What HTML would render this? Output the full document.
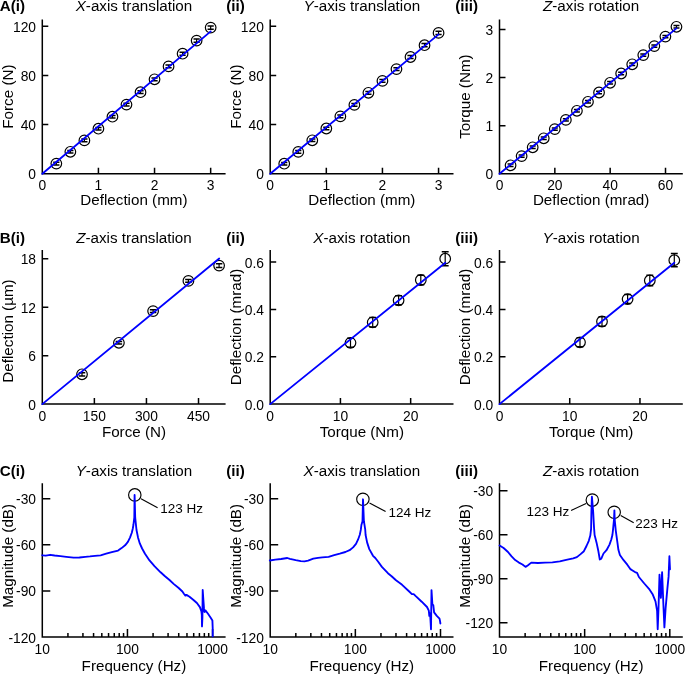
<!DOCTYPE html>
<html><head><meta charset="utf-8"><style>
html,body{margin:0;padding:0;background:#fff;width:685px;height:674px;overflow:hidden}
svg{display:block;will-change:transform}
text{font-family:"Liberation Sans", sans-serif}
</style></head><body>
<svg width="685" height="674" viewBox="0 0 685 674" font-family='"Liberation Sans", sans-serif' fill="#000"><path d="M42.30,19.40 V173.80 H225.60 M42.30,173.80 v-6 M98.42,173.80 v-6 M154.54,173.80 v-6 M210.66,173.80 v-6 M42.30,173.80 h6 M42.30,124.62 h6 M42.30,75.44 h6 M42.30,26.26 h6" fill="none" stroke="#000" stroke-width="1.5" stroke-linecap="butt"/>
<text x="42.30" y="189.70" font-size="13.8" text-anchor="middle" >0</text>
<text x="98.42" y="189.70" font-size="13.8" text-anchor="middle" >1</text>
<text x="154.54" y="189.70" font-size="13.8" text-anchor="middle" >2</text>
<text x="210.66" y="189.70" font-size="13.8" text-anchor="middle" >3</text>
<text x="36.00" y="179.30" font-size="13.8" text-anchor="end" >0</text>
<text x="36.00" y="130.12" font-size="13.8" text-anchor="end" >40</text>
<text x="36.00" y="80.94" font-size="13.8" text-anchor="end" >80</text>
<text x="36.00" y="31.76" font-size="13.8" text-anchor="end" >120</text>
<text x="133.95" y="10.95" font-size="15.2" text-anchor="middle" ><tspan font-style="italic">X</tspan>-axis translation</text>
<text x="133.95" y="205.10" font-size="15.2" text-anchor="middle" >Deflection (mm)</text>
<text x="0" y="0" font-size="15.2" text-anchor="middle" transform="translate(13.00,96.60) rotate(-90)">Force (N)</text>
<text x="-0.30" y="10.95" font-size="15.2" text-anchor="start" font-weight="bold">A(i)</text>
<path d="M270.20,19.40 V173.80 H453.50 M270.20,173.80 v-6 M326.32,173.80 v-6 M382.44,173.80 v-6 M438.56,173.80 v-6 M270.20,173.80 h6 M270.20,124.62 h6 M270.20,75.44 h6 M270.20,26.26 h6" fill="none" stroke="#000" stroke-width="1.5" stroke-linecap="butt"/>
<text x="270.20" y="189.70" font-size="13.8" text-anchor="middle" >0</text>
<text x="326.32" y="189.70" font-size="13.8" text-anchor="middle" >1</text>
<text x="382.44" y="189.70" font-size="13.8" text-anchor="middle" >2</text>
<text x="438.56" y="189.70" font-size="13.8" text-anchor="middle" >3</text>
<text x="263.90" y="179.30" font-size="13.8" text-anchor="end" >0</text>
<text x="263.90" y="130.12" font-size="13.8" text-anchor="end" >40</text>
<text x="263.90" y="80.94" font-size="13.8" text-anchor="end" >80</text>
<text x="263.90" y="31.76" font-size="13.8" text-anchor="end" >120</text>
<text x="361.85" y="10.95" font-size="15.2" text-anchor="middle" ><tspan font-style="italic">Y</tspan>-axis translation</text>
<text x="361.85" y="205.10" font-size="15.2" text-anchor="middle" >Deflection (mm)</text>
<text x="0" y="0" font-size="15.2" text-anchor="middle" transform="translate(240.90,96.60) rotate(-90)">Force (N)</text>
<text x="226.30" y="10.95" font-size="15.2" text-anchor="start" font-weight="bold">(ii)</text>
<path d="M499.50,19.40 V173.80 H682.80 M499.50,173.80 v-6 M554.84,173.80 v-6 M610.17,173.80 v-6 M665.51,173.80 v-6 M499.50,173.80 h6 M499.50,125.70 h6 M499.50,77.60 h6 M499.50,29.50 h6" fill="none" stroke="#000" stroke-width="1.5" stroke-linecap="butt"/>
<text x="499.50" y="189.70" font-size="13.8" text-anchor="middle" >0</text>
<text x="554.84" y="189.70" font-size="13.8" text-anchor="middle" >20</text>
<text x="610.17" y="189.70" font-size="13.8" text-anchor="middle" >40</text>
<text x="665.51" y="189.70" font-size="13.8" text-anchor="middle" >60</text>
<text x="493.20" y="179.30" font-size="13.8" text-anchor="end" >0</text>
<text x="493.20" y="131.20" font-size="13.8" text-anchor="end" >1</text>
<text x="493.20" y="83.10" font-size="13.8" text-anchor="end" >2</text>
<text x="493.20" y="35.00" font-size="13.8" text-anchor="end" >3</text>
<text x="591.15" y="10.95" font-size="15.2" text-anchor="middle" ><tspan font-style="italic">Z</tspan>-axis rotation</text>
<text x="591.15" y="205.10" font-size="15.2" text-anchor="middle" >Deflection (mrad)</text>
<text x="0" y="0" font-size="15.2" text-anchor="middle" transform="translate(470.20,96.60) rotate(-90)">Torque (Nm)</text>
<text x="455.30" y="10.95" font-size="15.2" text-anchor="start" font-weight="bold">(iii)</text>
<circle cx="56.33" cy="163.60" r="5.3" fill="none" stroke="#000" stroke-width="1.2"/>
<path d="M56.33,162.30 V164.90" stroke="#000" stroke-width="1.2" fill="none"/>
<path d="M53.23,162.30 h6.2 M53.23,164.90 h6.2" stroke="#000" stroke-width="1.5" fill="none"/>
<circle cx="70.36" cy="151.80" r="5.3" fill="none" stroke="#000" stroke-width="1.2"/>
<path d="M70.36,150.50 V153.10" stroke="#000" stroke-width="1.2" fill="none"/>
<path d="M67.26,150.50 h6.2 M67.26,153.10 h6.2" stroke="#000" stroke-width="1.5" fill="none"/>
<circle cx="84.39" cy="140.40" r="5.3" fill="none" stroke="#000" stroke-width="1.2"/>
<path d="M84.39,139.10 V141.70" stroke="#000" stroke-width="1.2" fill="none"/>
<path d="M81.29,139.10 h6.2 M81.29,141.70 h6.2" stroke="#000" stroke-width="1.5" fill="none"/>
<circle cx="98.42" cy="128.70" r="5.3" fill="none" stroke="#000" stroke-width="1.2"/>
<path d="M98.42,127.40 V130.00" stroke="#000" stroke-width="1.2" fill="none"/>
<path d="M95.32,127.40 h6.2 M95.32,130.00 h6.2" stroke="#000" stroke-width="1.5" fill="none"/>
<circle cx="112.45" cy="116.70" r="5.3" fill="none" stroke="#000" stroke-width="1.2"/>
<path d="M112.45,115.40 V118.00" stroke="#000" stroke-width="1.2" fill="none"/>
<path d="M109.35,115.40 h6.2 M109.35,118.00 h6.2" stroke="#000" stroke-width="1.5" fill="none"/>
<circle cx="126.48" cy="104.60" r="5.3" fill="none" stroke="#000" stroke-width="1.2"/>
<path d="M126.48,103.30 V105.90" stroke="#000" stroke-width="1.2" fill="none"/>
<path d="M123.38,103.30 h6.2 M123.38,105.90 h6.2" stroke="#000" stroke-width="1.5" fill="none"/>
<circle cx="140.51" cy="92.20" r="5.3" fill="none" stroke="#000" stroke-width="1.2"/>
<path d="M140.51,90.80 V93.60" stroke="#000" stroke-width="1.2" fill="none"/>
<path d="M137.41,90.80 h6.2 M137.41,93.60 h6.2" stroke="#000" stroke-width="1.5" fill="none"/>
<circle cx="154.54" cy="79.30" r="5.3" fill="none" stroke="#000" stroke-width="1.2"/>
<path d="M154.54,77.90 V80.70" stroke="#000" stroke-width="1.2" fill="none"/>
<path d="M151.44,77.90 h6.2 M151.44,80.70 h6.2" stroke="#000" stroke-width="1.5" fill="none"/>
<circle cx="168.57" cy="66.40" r="5.3" fill="none" stroke="#000" stroke-width="1.2"/>
<path d="M168.57,65.00 V67.80" stroke="#000" stroke-width="1.2" fill="none"/>
<path d="M165.47,65.00 h6.2 M165.47,67.80 h6.2" stroke="#000" stroke-width="1.5" fill="none"/>
<circle cx="182.60" cy="53.70" r="5.3" fill="none" stroke="#000" stroke-width="1.2"/>
<path d="M182.60,52.20 V55.20" stroke="#000" stroke-width="1.2" fill="none"/>
<path d="M179.50,52.20 h6.2 M179.50,55.20 h6.2" stroke="#000" stroke-width="1.5" fill="none"/>
<circle cx="196.63" cy="40.60" r="5.3" fill="none" stroke="#000" stroke-width="1.2"/>
<path d="M196.63,39.00 V42.20" stroke="#000" stroke-width="1.2" fill="none"/>
<path d="M193.53,39.00 h6.2 M193.53,42.20 h6.2" stroke="#000" stroke-width="1.5" fill="none"/>
<circle cx="210.66" cy="27.60" r="5.3" fill="none" stroke="#000" stroke-width="1.2"/>
<path d="M210.66,26.00 V29.20" stroke="#000" stroke-width="1.2" fill="none"/>
<path d="M207.56,26.00 h6.2 M207.56,29.20 h6.2" stroke="#000" stroke-width="1.5" fill="none"/>
<circle cx="284.23" cy="163.70" r="5.3" fill="none" stroke="#000" stroke-width="1.2"/>
<path d="M284.23,162.40 V165.00" stroke="#000" stroke-width="1.2" fill="none"/>
<path d="M281.13,162.40 h6.2 M281.13,165.00 h6.2" stroke="#000" stroke-width="1.5" fill="none"/>
<circle cx="298.26" cy="151.90" r="5.3" fill="none" stroke="#000" stroke-width="1.2"/>
<path d="M298.26,150.60 V153.20" stroke="#000" stroke-width="1.2" fill="none"/>
<path d="M295.16,150.60 h6.2 M295.16,153.20 h6.2" stroke="#000" stroke-width="1.5" fill="none"/>
<circle cx="312.29" cy="140.30" r="5.3" fill="none" stroke="#000" stroke-width="1.2"/>
<path d="M312.29,139.00 V141.60" stroke="#000" stroke-width="1.2" fill="none"/>
<path d="M309.19,139.00 h6.2 M309.19,141.60 h6.2" stroke="#000" stroke-width="1.5" fill="none"/>
<circle cx="326.32" cy="128.50" r="5.3" fill="none" stroke="#000" stroke-width="1.2"/>
<path d="M326.32,127.20 V129.80" stroke="#000" stroke-width="1.2" fill="none"/>
<path d="M323.22,127.20 h6.2 M323.22,129.80 h6.2" stroke="#000" stroke-width="1.5" fill="none"/>
<circle cx="340.35" cy="116.40" r="5.3" fill="none" stroke="#000" stroke-width="1.2"/>
<path d="M340.35,115.10 V117.70" stroke="#000" stroke-width="1.2" fill="none"/>
<path d="M337.25,115.10 h6.2 M337.25,117.70 h6.2" stroke="#000" stroke-width="1.5" fill="none"/>
<circle cx="354.38" cy="104.90" r="5.3" fill="none" stroke="#000" stroke-width="1.2"/>
<path d="M354.38,103.60 V106.20" stroke="#000" stroke-width="1.2" fill="none"/>
<path d="M351.28,103.60 h6.2 M351.28,106.20 h6.2" stroke="#000" stroke-width="1.5" fill="none"/>
<circle cx="368.41" cy="92.80" r="5.3" fill="none" stroke="#000" stroke-width="1.2"/>
<path d="M368.41,91.40 V94.20" stroke="#000" stroke-width="1.2" fill="none"/>
<path d="M365.31,91.40 h6.2 M365.31,94.20 h6.2" stroke="#000" stroke-width="1.5" fill="none"/>
<circle cx="382.44" cy="80.90" r="5.3" fill="none" stroke="#000" stroke-width="1.2"/>
<path d="M382.44,79.50 V82.30" stroke="#000" stroke-width="1.2" fill="none"/>
<path d="M379.34,79.50 h6.2 M379.34,82.30 h6.2" stroke="#000" stroke-width="1.5" fill="none"/>
<circle cx="396.47" cy="69.10" r="5.3" fill="none" stroke="#000" stroke-width="1.2"/>
<path d="M396.47,67.70 V70.50" stroke="#000" stroke-width="1.2" fill="none"/>
<path d="M393.37,67.70 h6.2 M393.37,70.50 h6.2" stroke="#000" stroke-width="1.5" fill="none"/>
<circle cx="410.50" cy="57.00" r="5.3" fill="none" stroke="#000" stroke-width="1.2"/>
<path d="M410.50,55.50 V58.50" stroke="#000" stroke-width="1.2" fill="none"/>
<path d="M407.40,55.50 h6.2 M407.40,58.50 h6.2" stroke="#000" stroke-width="1.5" fill="none"/>
<circle cx="424.53" cy="45.20" r="5.3" fill="none" stroke="#000" stroke-width="1.2"/>
<path d="M424.53,43.60 V46.80" stroke="#000" stroke-width="1.2" fill="none"/>
<path d="M421.43,43.60 h6.2 M421.43,46.80 h6.2" stroke="#000" stroke-width="1.5" fill="none"/>
<circle cx="438.56" cy="32.90" r="5.3" fill="none" stroke="#000" stroke-width="1.2"/>
<path d="M438.56,31.30 V34.50" stroke="#000" stroke-width="1.2" fill="none"/>
<path d="M435.46,31.30 h6.2 M435.46,34.50 h6.2" stroke="#000" stroke-width="1.5" fill="none"/>
<circle cx="510.56" cy="165.30" r="5.3" fill="none" stroke="#000" stroke-width="1.2"/>
<path d="M510.56,164.10 V166.50" stroke="#000" stroke-width="1.2" fill="none"/>
<path d="M507.56,164.10 h6.0 M507.56,166.50 h6.0" stroke="#000" stroke-width="1.5" fill="none"/>
<circle cx="521.62" cy="156.10" r="5.3" fill="none" stroke="#000" stroke-width="1.2"/>
<path d="M521.62,154.90 V157.30" stroke="#000" stroke-width="1.2" fill="none"/>
<path d="M518.62,154.90 h6.0 M518.62,157.30 h6.0" stroke="#000" stroke-width="1.5" fill="none"/>
<circle cx="532.68" cy="147.30" r="5.3" fill="none" stroke="#000" stroke-width="1.2"/>
<path d="M532.68,146.10 V148.50" stroke="#000" stroke-width="1.2" fill="none"/>
<path d="M529.68,146.10 h6.0 M529.68,148.50 h6.0" stroke="#000" stroke-width="1.5" fill="none"/>
<circle cx="543.74" cy="138.30" r="5.3" fill="none" stroke="#000" stroke-width="1.2"/>
<path d="M543.74,137.10 V139.50" stroke="#000" stroke-width="1.2" fill="none"/>
<path d="M540.74,137.10 h6.0 M540.74,139.50 h6.0" stroke="#000" stroke-width="1.5" fill="none"/>
<circle cx="554.80" cy="129.10" r="5.3" fill="none" stroke="#000" stroke-width="1.2"/>
<path d="M554.80,127.90 V130.30" stroke="#000" stroke-width="1.2" fill="none"/>
<path d="M551.80,127.90 h6.0 M551.80,130.30 h6.0" stroke="#000" stroke-width="1.5" fill="none"/>
<circle cx="565.86" cy="119.90" r="5.3" fill="none" stroke="#000" stroke-width="1.2"/>
<path d="M565.86,118.70 V121.10" stroke="#000" stroke-width="1.2" fill="none"/>
<path d="M562.86,118.70 h6.0 M562.86,121.10 h6.0" stroke="#000" stroke-width="1.5" fill="none"/>
<circle cx="576.92" cy="110.80" r="5.3" fill="none" stroke="#000" stroke-width="1.2"/>
<path d="M576.92,109.60 V112.00" stroke="#000" stroke-width="1.2" fill="none"/>
<path d="M573.92,109.60 h6.0 M573.92,112.00 h6.0" stroke="#000" stroke-width="1.5" fill="none"/>
<circle cx="587.98" cy="101.80" r="5.3" fill="none" stroke="#000" stroke-width="1.2"/>
<path d="M587.98,100.60 V103.00" stroke="#000" stroke-width="1.2" fill="none"/>
<path d="M584.98,100.60 h6.0 M584.98,103.00 h6.0" stroke="#000" stroke-width="1.5" fill="none"/>
<circle cx="599.04" cy="92.50" r="5.3" fill="none" stroke="#000" stroke-width="1.2"/>
<path d="M599.04,91.30 V93.70" stroke="#000" stroke-width="1.2" fill="none"/>
<path d="M596.04,91.30 h6.0 M596.04,93.70 h6.0" stroke="#000" stroke-width="1.5" fill="none"/>
<circle cx="610.10" cy="82.80" r="5.3" fill="none" stroke="#000" stroke-width="1.2"/>
<path d="M610.10,81.60 V84.00" stroke="#000" stroke-width="1.2" fill="none"/>
<path d="M607.10,81.60 h6.0 M607.10,84.00 h6.0" stroke="#000" stroke-width="1.5" fill="none"/>
<circle cx="621.16" cy="73.50" r="5.3" fill="none" stroke="#000" stroke-width="1.2"/>
<path d="M621.16,72.30 V74.70" stroke="#000" stroke-width="1.2" fill="none"/>
<path d="M618.16,72.30 h6.0 M618.16,74.70 h6.0" stroke="#000" stroke-width="1.5" fill="none"/>
<circle cx="632.22" cy="64.30" r="5.3" fill="none" stroke="#000" stroke-width="1.2"/>
<path d="M632.22,63.10 V65.50" stroke="#000" stroke-width="1.2" fill="none"/>
<path d="M629.22,63.10 h6.0 M629.22,65.50 h6.0" stroke="#000" stroke-width="1.5" fill="none"/>
<circle cx="643.28" cy="55.10" r="5.3" fill="none" stroke="#000" stroke-width="1.2"/>
<path d="M643.28,53.90 V56.30" stroke="#000" stroke-width="1.2" fill="none"/>
<path d="M640.28,53.90 h6.0 M640.28,56.30 h6.0" stroke="#000" stroke-width="1.5" fill="none"/>
<circle cx="654.34" cy="46.10" r="5.3" fill="none" stroke="#000" stroke-width="1.2"/>
<path d="M654.34,44.90 V47.30" stroke="#000" stroke-width="1.2" fill="none"/>
<path d="M651.34,44.90 h6.0 M651.34,47.30 h6.0" stroke="#000" stroke-width="1.5" fill="none"/>
<circle cx="665.40" cy="36.60" r="5.3" fill="none" stroke="#000" stroke-width="1.2"/>
<path d="M665.40,35.40 V37.80" stroke="#000" stroke-width="1.2" fill="none"/>
<path d="M662.40,35.40 h6.0 M662.40,37.80 h6.0" stroke="#000" stroke-width="1.5" fill="none"/>
<circle cx="676.46" cy="26.80" r="5.3" fill="none" stroke="#000" stroke-width="1.2"/>
<path d="M676.46,25.60 V28.00" stroke="#000" stroke-width="1.2" fill="none"/>
<path d="M673.46,25.60 h6.0 M673.46,28.00 h6.0" stroke="#000" stroke-width="1.5" fill="none"/>
<path d="M42.30,250.00 V404.10 H225.60 M42.30,404.10 v-6 M94.37,404.10 v-6 M146.45,404.10 v-6 M198.52,404.10 v-6 M42.30,404.10 h6 M42.30,355.69 h6 M42.30,307.28 h6 M42.30,258.87 h6" fill="none" stroke="#000" stroke-width="1.5" stroke-linecap="butt"/>
<text x="42.30" y="420.50" font-size="13.8" text-anchor="middle" >0</text>
<text x="94.37" y="420.50" font-size="13.8" text-anchor="middle" >150</text>
<text x="146.45" y="420.50" font-size="13.8" text-anchor="middle" >300</text>
<text x="198.52" y="420.50" font-size="13.8" text-anchor="middle" >450</text>
<text x="36.00" y="409.60" font-size="13.8" text-anchor="end" >0</text>
<text x="36.00" y="361.19" font-size="13.8" text-anchor="end" >6</text>
<text x="36.00" y="312.78" font-size="13.8" text-anchor="end" >12</text>
<text x="36.00" y="264.37" font-size="13.8" text-anchor="end" >18</text>
<text x="133.95" y="243.10" font-size="15.2" text-anchor="middle" ><tspan font-style="italic">Z</tspan>-axis translation</text>
<text x="133.95" y="437.30" font-size="15.2" text-anchor="middle" >Force (N)</text>
<text x="0" y="0" font-size="15.2" text-anchor="middle" transform="translate(13.00,331.00) rotate(-90)">Deflection (µm)</text>
<circle cx="82.00" cy="374.30" r="5.3" fill="none" stroke="#000" stroke-width="1.2"/>
<path d="M82.00,372.70 V375.90" stroke="#000" stroke-width="1.2" fill="none"/>
<path d="M78.75,372.70 h6.5 M78.75,375.90 h6.5" stroke="#000" stroke-width="1.5" fill="none"/>
<circle cx="118.90" cy="342.80" r="5.3" fill="none" stroke="#000" stroke-width="1.2"/>
<path d="M118.90,341.50 V344.10" stroke="#000" stroke-width="1.2" fill="none"/>
<path d="M115.65,341.50 h6.5 M115.65,344.10 h6.5" stroke="#000" stroke-width="1.5" fill="none"/>
<circle cx="153.10" cy="311.10" r="5.3" fill="none" stroke="#000" stroke-width="1.2"/>
<path d="M153.10,309.80 V312.40" stroke="#000" stroke-width="1.2" fill="none"/>
<path d="M149.85,309.80 h6.5 M149.85,312.40 h6.5" stroke="#000" stroke-width="1.5" fill="none"/>
<circle cx="188.40" cy="280.90" r="5.3" fill="none" stroke="#000" stroke-width="1.2"/>
<path d="M188.40,279.50 V282.30" stroke="#000" stroke-width="1.2" fill="none"/>
<path d="M185.15,279.50 h6.5 M185.15,282.30 h6.5" stroke="#000" stroke-width="1.5" fill="none"/>
<circle cx="219.10" cy="265.60" r="5.3" fill="none" stroke="#000" stroke-width="1.2"/>
<path d="M219.10,263.80 V267.40" stroke="#000" stroke-width="1.2" fill="none"/>
<path d="M215.85,263.80 h6.5 M215.85,267.40 h6.5" stroke="#000" stroke-width="1.5" fill="none"/>
<path d="M270.20,250.00 V404.10 H453.50 M270.20,404.10 v-6 M340.43,404.10 v-6 M410.66,404.10 v-6 M270.20,404.10 h6 M270.20,356.76 h6 M270.20,309.41 h6 M270.20,262.07 h6" fill="none" stroke="#000" stroke-width="1.5" stroke-linecap="butt"/>
<text x="270.20" y="420.50" font-size="13.8" text-anchor="middle" >0</text>
<text x="340.43" y="420.50" font-size="13.8" text-anchor="middle" >10</text>
<text x="410.66" y="420.50" font-size="13.8" text-anchor="middle" >20</text>
<text x="263.90" y="409.60" font-size="13.8" text-anchor="end" >0.0</text>
<text x="263.90" y="362.26" font-size="13.8" text-anchor="end" >0.2</text>
<text x="263.90" y="314.91" font-size="13.8" text-anchor="end" >0.4</text>
<text x="263.90" y="267.57" font-size="13.8" text-anchor="end" >0.6</text>
<text x="361.85" y="243.10" font-size="15.2" text-anchor="middle" ><tspan font-style="italic">X</tspan>-axis rotation</text>
<text x="361.85" y="437.30" font-size="15.2" text-anchor="middle" >Torque (Nm)</text>
<text x="0" y="0" font-size="15.2" text-anchor="middle" transform="translate(240.90,327.05) rotate(-90)">Deflection (mrad)</text>
<path d="M499.50,250.00 V404.10 H682.80 M499.50,404.10 v-6 M569.73,404.10 v-6 M639.96,404.10 v-6 M499.50,404.10 h6 M499.50,356.76 h6 M499.50,309.41 h6 M499.50,262.07 h6" fill="none" stroke="#000" stroke-width="1.5" stroke-linecap="butt"/>
<text x="499.50" y="420.50" font-size="13.8" text-anchor="middle" >0</text>
<text x="569.73" y="420.50" font-size="13.8" text-anchor="middle" >10</text>
<text x="639.96" y="420.50" font-size="13.8" text-anchor="middle" >20</text>
<text x="493.20" y="409.60" font-size="13.8" text-anchor="end" >0.0</text>
<text x="493.20" y="362.26" font-size="13.8" text-anchor="end" >0.2</text>
<text x="493.20" y="314.91" font-size="13.8" text-anchor="end" >0.4</text>
<text x="493.20" y="267.57" font-size="13.8" text-anchor="end" >0.6</text>
<text x="591.15" y="243.10" font-size="15.2" text-anchor="middle" ><tspan font-style="italic">Y</tspan>-axis rotation</text>
<text x="591.15" y="437.30" font-size="15.2" text-anchor="middle" >Torque (Nm)</text>
<text x="0" y="0" font-size="15.2" text-anchor="middle" transform="translate(470.20,327.05) rotate(-90)">Deflection (mrad)</text>
<text x="-0.30" y="243.10" font-size="15.2" text-anchor="start" font-weight="bold">B(i)</text>
<text x="226.30" y="243.10" font-size="15.2" text-anchor="start" font-weight="bold">(ii)</text>
<text x="455.30" y="243.10" font-size="15.2" text-anchor="start" font-weight="bold">(iii)</text>
<circle cx="350.50" cy="342.80" r="5.3" fill="none" stroke="#000" stroke-width="1.2"/>
<path d="M350.50,338.30 V347.30" stroke="#000" stroke-width="1.2" fill="none"/>
<path d="M347.05,338.30 h6.9 M347.05,347.30 h6.9" stroke="#000" stroke-width="1.5" fill="none"/>
<circle cx="372.70" cy="322.30" r="5.3" fill="none" stroke="#000" stroke-width="1.2"/>
<path d="M372.70,317.50 V327.10" stroke="#000" stroke-width="1.2" fill="none"/>
<path d="M369.25,317.50 h6.9 M369.25,327.10 h6.9" stroke="#000" stroke-width="1.5" fill="none"/>
<circle cx="398.60" cy="300.30" r="5.3" fill="none" stroke="#000" stroke-width="1.2"/>
<path d="M398.60,295.80 V304.80" stroke="#000" stroke-width="1.2" fill="none"/>
<path d="M395.15,295.80 h6.9 M395.15,304.80 h6.9" stroke="#000" stroke-width="1.5" fill="none"/>
<circle cx="420.80" cy="280.00" r="5.3" fill="none" stroke="#000" stroke-width="1.2"/>
<path d="M420.80,275.20 V284.80" stroke="#000" stroke-width="1.2" fill="none"/>
<path d="M417.35,275.20 h6.9 M417.35,284.80 h6.9" stroke="#000" stroke-width="1.5" fill="none"/>
<circle cx="445.20" cy="258.70" r="5.3" fill="none" stroke="#000" stroke-width="1.2"/>
<path d="M445.20,251.70 V265.70" stroke="#000" stroke-width="1.2" fill="none"/>
<path d="M441.75,251.70 h6.9 M441.75,265.70 h6.9" stroke="#000" stroke-width="1.5" fill="none"/>
<circle cx="580.00" cy="342.30" r="5.3" fill="none" stroke="#000" stroke-width="1.2"/>
<path d="M580.00,337.80 V346.80" stroke="#000" stroke-width="1.2" fill="none"/>
<path d="M576.55,337.80 h6.9 M576.55,346.80 h6.9" stroke="#000" stroke-width="1.5" fill="none"/>
<circle cx="602.00" cy="321.50" r="5.3" fill="none" stroke="#000" stroke-width="1.2"/>
<path d="M602.00,316.70 V326.30" stroke="#000" stroke-width="1.2" fill="none"/>
<path d="M598.55,316.70 h6.9 M598.55,326.30 h6.9" stroke="#000" stroke-width="1.5" fill="none"/>
<circle cx="627.60" cy="299.10" r="5.3" fill="none" stroke="#000" stroke-width="1.2"/>
<path d="M627.60,294.60 V303.60" stroke="#000" stroke-width="1.2" fill="none"/>
<path d="M624.15,294.60 h6.9 M624.15,303.60 h6.9" stroke="#000" stroke-width="1.5" fill="none"/>
<circle cx="649.80" cy="280.50" r="5.3" fill="none" stroke="#000" stroke-width="1.2"/>
<path d="M649.80,275.30 V285.70" stroke="#000" stroke-width="1.2" fill="none"/>
<path d="M646.35,275.30 h6.9 M646.35,285.70 h6.9" stroke="#000" stroke-width="1.5" fill="none"/>
<circle cx="674.30" cy="260.20" r="5.3" fill="none" stroke="#000" stroke-width="1.2"/>
<path d="M674.30,253.60 V266.80" stroke="#000" stroke-width="1.2" fill="none"/>
<path d="M670.85,253.60 h6.9 M670.85,266.80 h6.9" stroke="#000" stroke-width="1.5" fill="none"/>
<path d="M42.30,483.30 V637.00 H225.60 M42.30,637.00 v-8 M127.45,637.00 v-8 M212.60,637.00 v-8 M67.93,637.00 v-4 M82.93,637.00 v-4 M93.57,637.00 v-4 M101.82,637.00 v-4 M108.56,637.00 v-4 M114.26,637.00 v-4 M119.20,637.00 v-4 M123.55,637.00 v-4 M153.08,637.00 v-4 M168.08,637.00 v-4 M178.72,637.00 v-4 M186.97,637.00 v-4 M193.71,637.00 v-4 M199.41,637.00 v-4 M204.35,637.00 v-4 M208.70,637.00 v-4 M42.30,637.00 h8 M42.30,590.89 h8 M42.30,544.78 h8 M42.30,498.67 h8" fill="none" stroke="#000" stroke-width="1.5" stroke-linecap="butt"/>
<text x="42.30" y="653.90" font-size="13.8" text-anchor="middle" >10</text>
<text x="127.45" y="653.90" font-size="13.8" text-anchor="middle" >100</text>
<text x="212.60" y="653.90" font-size="13.8" text-anchor="middle" >1000</text>
<text x="36.00" y="642.50" font-size="13.8" text-anchor="end" >-120</text>
<text x="36.00" y="596.39" font-size="13.8" text-anchor="end" >-90</text>
<text x="36.00" y="550.28" font-size="13.8" text-anchor="end" >-60</text>
<text x="36.00" y="504.17" font-size="13.8" text-anchor="end" >-30</text>
<text x="133.95" y="475.70" font-size="15.2" text-anchor="middle" ><tspan font-style="italic">Y</tspan>-axis translation</text>
<text x="133.95" y="670.90" font-size="15.2" text-anchor="middle" >Frequency (Hz)</text>
<text x="0" y="0" font-size="15.2" text-anchor="middle" transform="translate(13.00,555.90) rotate(-90)">Magnitude (dB)</text>
<text x="-0.30" y="475.70" font-size="15.2" text-anchor="start" font-weight="bold">C(i)</text>
<path d="M270.20,483.30 V637.00 H453.50 M270.20,637.00 v-8 M355.35,637.00 v-8 M440.50,637.00 v-8 M295.83,637.00 v-4 M310.83,637.00 v-4 M321.47,637.00 v-4 M329.72,637.00 v-4 M336.46,637.00 v-4 M342.16,637.00 v-4 M347.10,637.00 v-4 M351.45,637.00 v-4 M380.98,637.00 v-4 M395.98,637.00 v-4 M406.62,637.00 v-4 M414.87,637.00 v-4 M421.61,637.00 v-4 M427.31,637.00 v-4 M432.25,637.00 v-4 M436.60,637.00 v-4 M270.20,637.00 h8 M270.20,590.89 h8 M270.20,544.78 h8 M270.20,498.67 h8" fill="none" stroke="#000" stroke-width="1.5" stroke-linecap="butt"/>
<text x="270.20" y="653.90" font-size="13.8" text-anchor="middle" >10</text>
<text x="355.35" y="653.90" font-size="13.8" text-anchor="middle" >100</text>
<text x="440.50" y="653.90" font-size="13.8" text-anchor="middle" >1000</text>
<text x="263.90" y="642.50" font-size="13.8" text-anchor="end" >-120</text>
<text x="263.90" y="596.39" font-size="13.8" text-anchor="end" >-90</text>
<text x="263.90" y="550.28" font-size="13.8" text-anchor="end" >-60</text>
<text x="263.90" y="504.17" font-size="13.8" text-anchor="end" >-30</text>
<text x="361.85" y="475.70" font-size="15.2" text-anchor="middle" ><tspan font-style="italic">X</tspan>-axis translation</text>
<text x="361.85" y="670.90" font-size="15.2" text-anchor="middle" >Frequency (Hz)</text>
<text x="0" y="0" font-size="15.2" text-anchor="middle" transform="translate(240.90,555.90) rotate(-90)">Magnitude (dB)</text>
<text x="226.30" y="475.70" font-size="15.2" text-anchor="start" font-weight="bold">(ii)</text>
<path d="M499.50,483.30 V637.00 H682.80 M499.50,637.00 v-8 M584.65,637.00 v-8 M669.80,637.00 v-8 M525.13,637.00 v-4 M540.13,637.00 v-4 M550.77,637.00 v-4 M559.02,637.00 v-4 M565.76,637.00 v-4 M571.46,637.00 v-4 M576.40,637.00 v-4 M580.75,637.00 v-4 M610.28,637.00 v-4 M625.28,637.00 v-4 M635.92,637.00 v-4 M644.17,637.00 v-4 M650.91,637.00 v-4 M656.61,637.00 v-4 M661.55,637.00 v-4 M665.90,637.00 v-4 M499.50,622.64 h8 M499.50,578.68 h8 M499.50,534.73 h8 M499.50,490.77 h8" fill="none" stroke="#000" stroke-width="1.5" stroke-linecap="butt"/>
<text x="499.50" y="653.90" font-size="13.8" text-anchor="middle" >10</text>
<text x="584.65" y="653.90" font-size="13.8" text-anchor="middle" >100</text>
<text x="669.80" y="653.90" font-size="13.8" text-anchor="middle" >1000</text>
<text x="493.20" y="628.14" font-size="13.8" text-anchor="end" >-120</text>
<text x="493.20" y="584.18" font-size="13.8" text-anchor="end" >-90</text>
<text x="493.20" y="540.23" font-size="13.8" text-anchor="end" >-60</text>
<text x="493.20" y="496.27" font-size="13.8" text-anchor="end" >-30</text>
<text x="591.15" y="475.70" font-size="15.2" text-anchor="middle" ><tspan font-style="italic">Z</tspan>-axis rotation</text>
<text x="591.15" y="670.90" font-size="15.2" text-anchor="middle" >Frequency (Hz)</text>
<text x="0" y="0" font-size="15.2" text-anchor="middle" transform="translate(470.20,555.90) rotate(-90)">Magnitude (dB)</text>
<text x="455.30" y="475.70" font-size="15.2" text-anchor="start" font-weight="bold">(iii)</text>
<circle cx="134.8" cy="494.9" r="6.2" fill="none" stroke="#000" stroke-width="1.15"/>
<path d="M141,498.8 L157.6,507.7" stroke="#000" stroke-width="1.15"/>
<text x="160.20" y="512.50" font-size="13.5" text-anchor="start" >123 Hz</text>
<circle cx="362.9" cy="499.3" r="6.2" fill="none" stroke="#000" stroke-width="1.15"/>
<path d="M369.5,503 L385.6,511.5" stroke="#000" stroke-width="1.15"/>
<text x="388.60" y="516.90" font-size="13.5" text-anchor="start" >124 Hz</text>
<circle cx="592.3" cy="500.1" r="6.2" fill="none" stroke="#000" stroke-width="1.15"/>
<path d="M571.1,510.4 L586.1,503.4" stroke="#000" stroke-width="1.15"/>
<text x="569.30" y="516.10" font-size="13.5" text-anchor="end" >123 Hz</text>
<circle cx="614.2" cy="512.3" r="6.2" fill="none" stroke="#000" stroke-width="1.15"/>
<path d="M620.7,515.6 L633.7,522.8" stroke="#000" stroke-width="1.15"/>
<text x="635.30" y="528.00" font-size="13.5" text-anchor="start" >223 Hz</text>
<path d="M42.30,173.80 L210.70,31.40" fill="none" stroke="#0000ff" stroke-width="1.85" stroke-linejoin="round" stroke-linecap="round"/>
<path d="M270.20,173.80 L438.60,34.40" fill="none" stroke="#0000ff" stroke-width="1.85" stroke-linejoin="round" stroke-linecap="round"/>
<path d="M499.50,173.80 L676.40,28.40" fill="none" stroke="#0000ff" stroke-width="1.85" stroke-linejoin="round" stroke-linecap="round"/>
<path d="M42.30,404.10 L219.20,258.50" fill="none" stroke="#0000ff" stroke-width="1.85" stroke-linejoin="round" stroke-linecap="round"/>
<path d="M270.20,404.10 L445.35,262.80" fill="none" stroke="#0000ff" stroke-width="1.85" stroke-linejoin="round" stroke-linecap="round"/>
<path d="M499.50,404.10 L674.30,262.70" fill="none" stroke="#0000ff" stroke-width="1.85" stroke-linejoin="round" stroke-linecap="round"/>
<path d="M42.20,555.30 L45.80,555.70 L50.20,554.80 L54.60,555.50 L60.40,556.10 L66.30,556.80 L73.60,557.70 L79.40,557.50 L85.30,556.80 L90.00,556.40 L95.00,555.80 L100.60,555.30 L106.20,553.70 L111.80,552.20 L118.10,550.60 L121.60,548.10 L125.10,545.30 L127.90,541.80 L130.00,537.60 L131.80,532.70 L132.80,528.50 L133.40,525.00 L134.30,517.70 L134.60,495.00 L135.20,517.70 L136.50,530.00 L138.00,537.40 L139.80,543.40 L142.10,548.50 L145.00,553.70 L149.50,560.40 L154.70,566.40 L160.60,572.30 L165.00,576.30 L169.50,580.00 L173.90,584.10 L178.40,587.80 L182.40,591.50 L183.90,593.70 L185.40,595.60 L186.50,594.90 L189.50,596.70 L193.20,599.70 L196.90,603.00 L199.90,607.10 L201.40,611.50 L201.80,615.00 L202.00,626.40 L202.40,618.00 L202.70,590.00 L203.40,600.00 L204.00,608.40 L204.40,612.00 L205.40,610.40 L208.00,613.70 L210.70,617.70 L212.40,620.40 L212.70,628.40 L212.70,636.40" fill="none" stroke="#0000ff" stroke-width="1.85" stroke-linejoin="round" stroke-linecap="round"/>
<path d="M269.80,560.50 L275.30,559.60 L281.10,559.00 L287.30,558.00 L289.90,558.90 L295.70,560.20 L300.80,561.20 L304.50,561.40 L308.10,560.70 L313.30,558.70 L318.00,557.80 L322.30,557.40 L328.60,556.90 L334.20,555.10 L339.80,553.70 L345.40,552.00 L349.60,550.20 L353.10,547.40 L356.00,543.90 L358.00,539.70 L359.80,534.80 L360.80,529.90 L361.40,525.00 L362.50,521.20 L363.00,499.30 L363.90,521.20 L365.20,529.30 L365.60,535.00 L367.10,542.40 L369.30,549.10 L373.00,555.80 L375.30,558.00 L378.20,561.70 L381.90,566.90 L387.90,573.20 L391.60,576.20 L396.00,580.30 L402.10,584.80 L409.20,591.50 L411.90,594.10 L413.70,594.10 L415.50,595.90 L421.70,601.70 L427.00,607.00 L428.80,610.60 L429.30,615.90 L430.10,613.30 L431.00,629.30 L431.50,590.10 L432.40,604.40 L433.30,605.20 L434.10,612.40 L436.80,615.90 L439.50,618.60 L439.90,620.40 L440.40,623.50" fill="none" stroke="#0000ff" stroke-width="1.85" stroke-linejoin="round" stroke-linecap="round"/>
<path d="M499.60,545.50 L503.60,548.00 L508.00,552.00 L511.60,556.40 L515.20,560.10 L518.90,562.60 L522.50,564.50 L525.50,566.90 L527.70,565.50 L531.30,562.60 L537.90,563.00 L545.00,562.70 L552.40,562.30 L559.80,561.40 L567.30,559.70 L573.20,558.40 L576.90,557.10 L580.60,554.10 L583.90,551.20 L586.50,546.00 L588.80,540.80 L590.30,535.60 L591.10,528.90 L591.40,512.30 L591.90,496.70 L593.20,512.30 L594.00,527.10 L594.60,535.00 L596.50,542.40 L598.40,551.30 L599.80,559.50 L601.30,558.70 L603.50,553.50 L606.50,550.20 L609.50,544.60 L611.30,539.50 L612.40,535.00 L612.90,530.80 L614.00,519.70 L614.40,510.40 L614.70,519.70 L615.80,530.80 L617.60,543.90 L618.40,549.80 L619.90,555.00 L623.60,560.20 L627.30,564.70 L630.30,569.10 L631.70,569.90 L635.00,572.10 L637.10,572.80 L638.90,577.00 L644.30,583.50 L649.00,588.80 L652.60,594.20 L655.50,601.30 L657.10,610.80 L657.70,629.20 L658.50,608.40 L659.50,574.60 L660.30,590.60 L660.90,597.80 L661.50,584.70 L662.10,572.20 L663.30,602.50 L664.40,627.40 L665.60,608.40 L667.40,588.30 L668.60,576.40 L669.40,556.20 L670.00,569.30" fill="none" stroke="#0000ff" stroke-width="1.85" stroke-linejoin="round" stroke-linecap="round"/></svg>
</body></html>
